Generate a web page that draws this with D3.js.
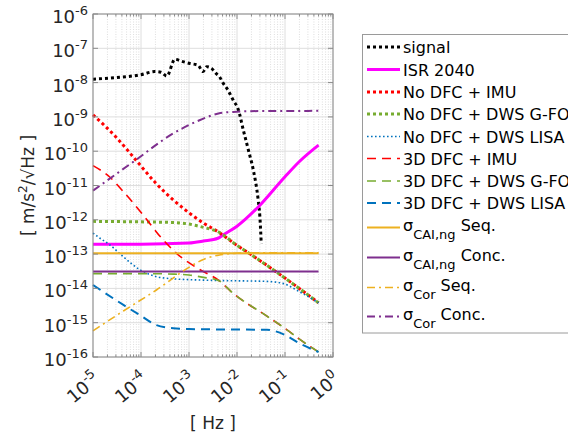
<!DOCTYPE html>
<html lang="en">
<head>
<meta charset="UTF-8">
<title>ASD</title>
<script src="https://cdn.jsdelivr.net/npm/d3@7"></script>
<style>
  body { margin: 0; background: #fff; }
  svg { display: block; font-family: "DejaVu Sans", Verdana, sans-serif; }
</style>
</head>
<body>
<div id="container"></div>
<script>
// each series: [frequency Hz, value m/s^2/sqrt(Hz)]
const signal = [[1e-5,1.26e-8],[3e-5,1.4e-8],[1e-4,1.7e-8],[1.94e-4,2.1e-8],[2.6e-4,2.0e-8],[3.45e-4,1.55e-8],
  [5.1e-4,4.8e-8],[7e-4,4.2e-8],[1.05e-3,3.6e-8],[1.55e-3,3.2e-8],[1.95e-3,2.1e-8],[2.35e-3,2.9e-8],
  [2.95e-3,2.6e-8],[3.65e-3,1.86e-8],[4.3e-3,1.5e-8],[5.1e-3,9.8e-9],[6.5e-3,6e-9],[8.3e-3,3.1e-9],
  [1.07e-2,1.6e-9],[1.35e-2,4.2e-10],[1.73e-2,1.07e-10],[2.19e-2,2.8e-11],[2.76e-2,3.8e-12],
  [3.0e-2,1.2e-12],[3.2e-2,2e-13]];
const isr2040 = [[1e-5,1.95e-13],[1e-4,1.95e-13],[1e-3,2.1e-13],[2e-3,2.4e-13],[4e-3,2.9e-13],[5.1e-3,3.6e-13],
  [1e-2,6.5e-13],[2.8e-2,2.4e-12],[0.1,1.8e-11],[0.2,5e-11],[0.5,1.5e-10]];
const noDfcImu = [[1e-5,1.15e-9],[3e-5,2.6e-10],[9.5e-5,4e-11],[2e-4,1.2e-11],[4.7e-4,3.8e-12],[1e-3,1.6e-12],
  [2e-3,8e-13],[4e-3,4.5e-13],[1e-2,1.8e-13],[2e-2,9.5e-14],[0.1,2e-14],[0.5,3.8e-15]];
const noDfcGfo = [[1e-5,9e-13],[1e-4,8.7e-13],[5e-4,8.3e-13],[1e-3,7.5e-13],[2e-3,6e-13],[4e-3,4.5e-13],
  [1e-2,1.8e-13],[2e-2,9.5e-14],[0.1,2e-14],[0.5,3.8e-15]];
const noDfcLisa = [[1e-5,4.1e-13],[1.4e-5,2.9e-13],[2.2e-5,1.9e-13],[4.3e-5,8.3e-14],[9.5e-5,3.5e-14],
  [2.1e-4,2.2e-14],[4.7e-4,1.9e-14],[1e-3,1.8e-14],[4e-3,1.7e-14],[4.2e-2,1.6e-14],[9e-2,1.4e-14],
  [0.2,8e-15],[0.5,3.8e-15]];
const dfcImu = [[1e-5,3.8e-11],[2.2e-5,1.8e-11],[4.3e-5,6.6e-12],[1.1e-4,1.4e-12],[2.7e-4,2.9e-13],
  [5.5e-4,1.05e-13],[1.7e-3,3.5e-14],[4.1e-3,1.74e-14],[8.3e-3,7.2e-15],[4.2e-2,1.55e-15],[0.11,6.2e-16],
  [0.2,3.3e-16],[0.5,1.4e-16]];
const dfcGfo = [[1e-5,2.7e-14],[1e-4,2.7e-14],[5e-4,2.6e-14],[1e-3,2.45e-14],[2e-3,2.1e-14],[4.1e-3,1.7e-14],
  [8.3e-3,7.2e-15],[4.2e-2,1.55e-15],[0.11,6.2e-16],[0.2,3.3e-16],[0.5,1.4e-16]];
const dfcLisa = [[1e-5,1.26e-14],[4.3e-5,3.3e-15],[9.5e-5,1.66e-15],[2.1e-4,8.5e-16],[4.7e-4,6.9e-16],
  [1e-3,6.5e-16],[4.2e-2,6.2e-16],[0.1,4.4e-16],[0.2,2.5e-16],[0.5,1.4e-16]];
const caiSeq = [[1e-5,1.05e-13],[0.5,1.05e-13]];
const caiConc = [[1e-5,3.1e-14],[0.5,3.1e-14]];
const corSeq = [[1e-5,5.8e-16],[4.3e-5,2.2e-15],[2.1e-4,9e-15],[1.05e-3,4.3e-14],[2e-3,7e-14],
  [4.1e-3,9.3e-14],[1e-2,1.06e-13],[3e-2,1.1e-13],[0.5,1.1e-13]];
const corConc = [[1e-5,7.1e-12],[6.9e-5,4.9e-11],[4.7e-4,3.3e-10],[1.7e-3,8.1e-10],[4.1e-3,1.26e-9],
  [8.3e-3,1.4e-9],[3e-2,1.48e-9],[0.5,1.5e-9]];

const labels = ["signal","ISR 2040","No DFC + IMU","No DFC + DWS G-FO","No DFC + DWS LISA",
  "3D DFC + IMU","3D DFC + DWS G-FO","3D DFC + DWS LISA"];
const sigmaLabels = [["CAI,ng"," Seq."],["CAI,ng"," Conc."],["Cor"," Seq."],["Cor"," Conc."]];
const xTickExp = [-5,-4,-3,-2,-1,0];
const yTickExp = [-16,-15,-14,-13,-12,-11,-10,-9,-8,-7,-6];

const series = [
  {data: signal,    color: "#000000", w: 3,   dash: "3,3"},
  {data: isr2040,   color: "#ff00ff", w: 3,   dash: null},
  {data: noDfcImu,  color: "#ff0000", w: 3,   dash: "3,3"},
  {data: noDfcGfo,  color: "#77ac30", w: 3,   dash: "3,3"},
  {data: noDfcLisa, color: "#0072bd", w: 1.6, dash: "1.6,2.4"},
  {data: dfcImu,    color: "#ff0000", w: 1.6, dash: "9,6"},
  {data: dfcGfo,    color: "#77ac30", w: 1.6, dash: "9,6"},
  {data: dfcLisa,   color: "#0072bd", w: 2,   dash: "9,6"},
  {data: caiSeq,    color: "#edb120", w: 2,   dash: null},
  {data: caiConc,   color: "#7e2f8e", w: 2,   dash: null},
  {data: corSeq,    color: "#edb120", w: 1.6, dash: "8,4,2,4"},
  {data: corConc,   color: "#7e2f8e", w: 2,   dash: "8,4,2,4"}
];

const W = 568, H = 436;
const L = 93, R = 333, T = 14, B = 357;

const svg = d3.select("#container").append("svg").attr("width", W).attr("height", H);
const x = d3.scaleLog().domain([1e-5, 1]).range([L, R]);
const y = d3.scaleLog().domain([1e-16, 1e-6]).range([B, T]);

// grid
const xt = x.ticks(), yt = y.ticks();
const isMajor = v => Math.abs(Math.log10(v) - Math.round(Math.log10(v))) < 1e-6;
const grid = svg.append("g");
grid.selectAll("line.xm").data(xt.filter(v => !isMajor(v))).enter().append("line")
  .attr("x1", d => x(d)).attr("x2", d => x(d)).attr("y1", T).attr("y2", B)
  .attr("stroke", "#d0d0d0").attr("stroke-width", 0.7).attr("stroke-dasharray", "1,1.5");
grid.selectAll("line.ym").data(yt.filter(v => !isMajor(v))).enter().append("line")
  .attr("y1", d => y(d)).attr("y2", d => y(d)).attr("x1", L).attr("x2", R)
  .attr("stroke", "#d0d0d0").attr("stroke-width", 0.7).attr("stroke-dasharray", "1,1.5");
grid.selectAll("line.xM").data(xt.filter(isMajor)).enter().append("line")
  .attr("x1", d => x(d)).attr("x2", d => x(d)).attr("y1", T).attr("y2", B)
  .attr("stroke", "#dedede").attr("stroke-width", 1);
grid.selectAll("line.yM").data(yt.filter(isMajor)).enter().append("line")
  .attr("y1", d => y(d)).attr("y2", d => y(d)).attr("x1", L).attr("x2", R)
  .attr("stroke", "#dedede").attr("stroke-width", 1);

// curves
const line = d3.line().x(d => x(d[0])).y(d => y(d[1])).curve(d3.curveMonotoneX);
svg.append("g").selectAll("path").data(series).enter().append("path")
  .attr("d", d => line(d.data))
  .attr("fill", "none")
  .attr("stroke", d => d.color)
  .attr("stroke-width", d => d.w)
  .attr("stroke-dasharray", d => d.dash);

// box + inner ticks
const ax = svg.append("g").attr("stroke", "#8a8a8a");
ax.append("rect").attr("x", L).attr("y", T).attr("width", R - L).attr("height", B - T)
  .attr("fill", "none").attr("stroke-width", 1);
xt.forEach(v => {
  const len = isMajor(v) ? 5 : 2.5;
  ax.append("line").attr("x1", x(v)).attr("x2", x(v)).attr("y1", B).attr("y2", B - len);
  ax.append("line").attr("x1", x(v)).attr("x2", x(v)).attr("y1", T).attr("y2", T + len);
});
yt.forEach(v => {
  const len = isMajor(v) ? 5 : 2.5;
  ax.append("line").attr("y1", y(v)).attr("y2", y(v)).attr("x1", L).attr("x2", L + len);
  ax.append("line").attr("y1", y(v)).attr("y2", y(v)).attr("x1", R).attr("x2", R - len);
});

// tick labels
const tl = svg.append("g").attr("fill", "#262626");
yTickExp.forEach(e => {
  const t = tl.append("text").attr("x", 88).attr("y", y(Math.pow(10, e)) + 9)
    .attr("text-anchor", "end").attr("font-size", 18);
  t.append("tspan").text("10");
  t.append("tspan").attr("dy", -8).attr("font-size", 13).text(String(e));
});
xTickExp.forEach(e => {
  const px = x(Math.pow(10, e));
  const t = tl.append("text").attr("transform", `translate(${px + 8},${B + 24}) rotate(-40)`)
    .attr("text-anchor", "end").attr("font-size", 18);
  t.append("tspan").text("10");
  t.append("tspan").attr("dy", -8).attr("font-size", 13).text(String(e));
});

// axis titles
svg.append("text").attr("x", (L + R) / 2).attr("y", 429).attr("text-anchor", "middle")
  .attr("font-size", 17).attr("fill", "#262626").text("[ Hz ]");
const ylab = svg.append("text").attr("transform", `translate(34,${(T + B) / 2}) rotate(-90)`)
  .attr("text-anchor", "middle").attr("font-size", 17).attr("fill", "#262626");
ylab.append("tspan").text("[ m/s");
ylab.append("tspan").attr("dy", -7).attr("font-size", 12).text("2");
ylab.append("tspan").attr("dy", 7).text("/\u221AHz ]");

// legend
const lg = svg.append("g");
lg.append("rect").attr("x", 362.5).attr("y", 34.5).attr("width", 260).attr("height", 298.5)
  .attr("fill", "#fff").attr("stroke", "#9a9a9a").attr("stroke-width", 1);
const rowY = [47, 69.5, 92, 114, 136.5, 158.5, 181, 203, 227.5, 257.5, 287.5, 316.5];
series.forEach((s, i) => {
  const yy = rowY[i];
  lg.append("line").attr("x1", 367).attr("x2", 400).attr("y1", yy).attr("y2", yy)
    .attr("stroke", s.color).attr("stroke-width", s.w).attr("stroke-dasharray", s.dash);
  if (i < labels.length) {
    lg.append("text").attr("x", 403).attr("y", yy + 6).attr("font-size", 16)
      .attr("fill", "#000").text(labels[i]);
  } else {
    const sl = sigmaLabels[i - labels.length];
    const t = lg.append("text").attr("x", 403).attr("y", yy + 3).attr("font-size", 16).attr("fill", "#000");
    t.append("tspan").text("\u03C3");
    t.append("tspan").attr("dy", 8).attr("font-size", 13).text(sl[0]);
    t.append("tspan").attr("dy", -8).text(sl[1]);
  }
});
</script>
</body>
</html>
